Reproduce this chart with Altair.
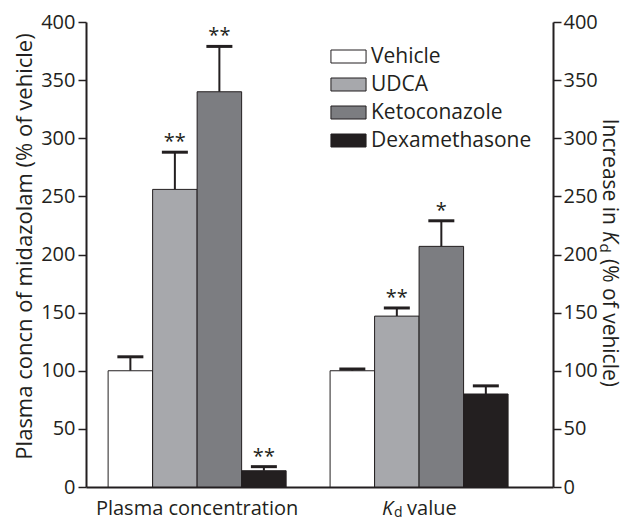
import altair as alt
import pandas as pd

# ---- data ----
groups = ["plasma", "kd"]
treatments = ["Vehicle", "UDCA", "Ketoconazole", "Dexamethasone"]
colors = ["#ffffff", "#a7a8ac", "#7c7d81", "#231f20"]

plasma_mean = [100, 256, 340, 14]
plasma_upper = [112, 288, 379, 17.5]
plasma_sig = ["", "**", "**", "**"]

kd_mean = [100, 147, 207, 80]
kd_upper = [101.5, 154, 229, 87]
kd_sig = ["", "**", "*", ""]

y_ticks = [0, 50, 100, 150, 200, 250, 300, 350, 400]

DARK = "#231f20"
FONT = "Open Sans"

rows = []
for t, m, u, s in zip(treatments, plasma_mean, plasma_upper, plasma_sig):
    rows.append({"group": "plasma", "treatment": t, "mean": m, "upper": u, "sig": s})
for t, m, u, s in zip(treatments, kd_mean, kd_upper, kd_sig):
    rows.append({"group": "kd", "treatment": t, "mean": m, "upper": u, "sig": s})
df = pd.DataFrame(rows)

x_scale = alt.Scale(domain=groups, paddingInner=0.198, paddingOuter=0.151, align=0.33)
x_axis = alt.Axis(labels=False, ticks=False, title=None, domainColor=DARK, domainWidth=2, grid=False)
x_enc = alt.X("group:N", scale=x_scale, axis=x_axis)
xo_enc = alt.XOffset("treatment:N", scale=alt.Scale(domain=treatments, paddingInner=0, paddingOuter=0))
y_scale = alt.Scale(domain=[0, 400], nice=False, zero=True)

left_axis = alt.Axis(
    orient="left", values=y_ticks, grid=False, tickSize=8, tickWidth=1.5, tickColor=DARK,
    domainColor=DARK, domainWidth=2, labelFontSize=20, labelColor=DARK, labelFont=FONT,
    labelPadding=3,
    title="Plasma concn of midazolam (% of vehicle)", titleFontSize=22, titleFont=FONT,
    titleFontWeight="normal", titleColor=DARK, titleX=-55, titleY=224, titleAngle=270,
    titleAlign="center", titleBaseline="alphabetic",
)
right_axis = alt.Axis(
    orient="right", values=y_ticks, grid=False, tickSize=8, tickWidth=1.5, tickColor=DARK,
    domainColor=DARK, domainWidth=2, labelFontSize=20, labelColor=DARK, labelFont=FONT,
    labelPadding=2, title=None,
)

base = alt.Chart(df)

err_rules = base.mark_rule(color=DARK, strokeWidth=2).encode(
    x=x_enc, xOffset=xo_enc,
    y=alt.Y("mean:Q", scale=y_scale, axis=left_axis), y2="upper:Q",
)
caps = base.mark_tick(color=DARK, size=26, thickness=3, orient="horizontal", opacity=1).encode(
    x=x_enc, xOffset=xo_enc, y=alt.Y("upper:Q", scale=y_scale, axis=left_axis),
)
bars = base.mark_bar(stroke=DARK, strokeWidth=1, opacity=1).encode(
    x=x_enc, xOffset=xo_enc,
    y=alt.Y("mean:Q", scale=y_scale, axis=left_axis),
    color=alt.Color(
        "treatment:N",
        scale=alt.Scale(domain=treatments, range=colors),
        legend=alt.Legend(
            orient="none", legendX=252, legendY=24, title=None, padding=0,
            symbolType="M-2.7,-1H2.7V1H-2.7Z", symbolSize=169,
            symbolStrokeColor=DARK, symbolStrokeWidth=1, symbolOpacity=1,
            labelFontSize=21, labelFont=FONT, labelColor=DARK, labelOffset=12,
            labelLimit=300, rowPadding=6,
        ),
    ),
)
stars = base.mark_text(fontSize=20, font=FONT, color=DARK, baseline="alphabetic", dy=-4).encode(
    x=x_enc, xOffset=xo_enc, y=alt.Y("upper:Q", scale=y_scale, axis=left_axis), text="sig:N",
)

left_layer = alt.layer(err_rules, bars, caps, stars)

right_layer = alt.Chart(df).mark_tick(opacity=0).encode(
    x=x_enc, y=alt.Y("mean:Q", scale=y_scale, axis=right_axis),
)

# group labels
LAB_Y = 493
lab_df = pd.DataFrame({"group": ["plasma"], "label": ["Plasma concentration"]})
plasma_lab = alt.Chart(lab_df).mark_text(fontSize=20, font=FONT, color=DARK, baseline="alphabetic").encode(
    x=x_enc, y=alt.value(LAB_Y), text="label:N",
)
kd_df = pd.DataFrame({"group": ["kd"]})
kd_K = alt.Chart(kd_df).mark_text(text="K", fontSize=20, font=FONT, fontStyle="italic", color=DARK,
                                  align="left", baseline="alphabetic", dx=-37).encode(x=x_enc, y=alt.value(LAB_Y))
kd_d = alt.Chart(kd_df).mark_text(text="d", fontSize=14, font=FONT, color=DARK,
                                  align="left", baseline="alphabetic", dx=-25, dy=2).encode(x=x_enc, y=alt.value(LAB_Y))
kd_v = alt.Chart(kd_df).mark_text(text="value", fontSize=20, font=FONT, color=DARK,
                                  align="left", baseline="alphabetic", dx=-12).encode(x=x_enc, y=alt.value(LAB_Y))

# right axis title (rotated)
rt_x, rt_y = 517, 209
rt1 = alt.Chart(kd_df).mark_text(text="Increase in", fontSize=21, font=FONT, color=DARK, angle=90,
                                 align="right", baseline="alphabetic", dx=-6).encode(x=alt.value(rt_x), y=alt.value(rt_y))
rt2 = alt.Chart(kd_df).mark_text(text="K", fontSize=21, font=FONT, fontStyle="italic", color=DARK, angle=90,
                                 align="left", baseline="alphabetic", dx=0).encode(x=alt.value(rt_x), y=alt.value(rt_y))
rt3 = alt.Chart(kd_df).mark_text(text="d", fontSize=15, font=FONT, color=DARK, angle=90,
                                 align="left", baseline="alphabetic", dx=12.5, dy=3).encode(x=alt.value(rt_x), y=alt.value(rt_y))
rt4 = alt.Chart(kd_df).mark_text(text="(% of vehicle)", fontSize=21, font=FONT, color=DARK, angle=90,
                                 align="left", baseline="alphabetic", dx=28).encode(x=alt.value(rt_x), y=alt.value(rt_y))

chart = alt.layer(
    left_layer, right_layer, plasma_lab, kd_K, kd_d, kd_v, rt1, rt2, rt3, rt4
).resolve_scale(y="independent").properties(
    width=467, height=465,
    autosize=alt.AutoSizeParams(type="none"),
    padding={"left": 78, "top": 14, "right": 70, "bottom": 34},
).configure_view(stroke=None)

chart.save("out.html", embed_options={"renderer": "svg", "actions": False})
